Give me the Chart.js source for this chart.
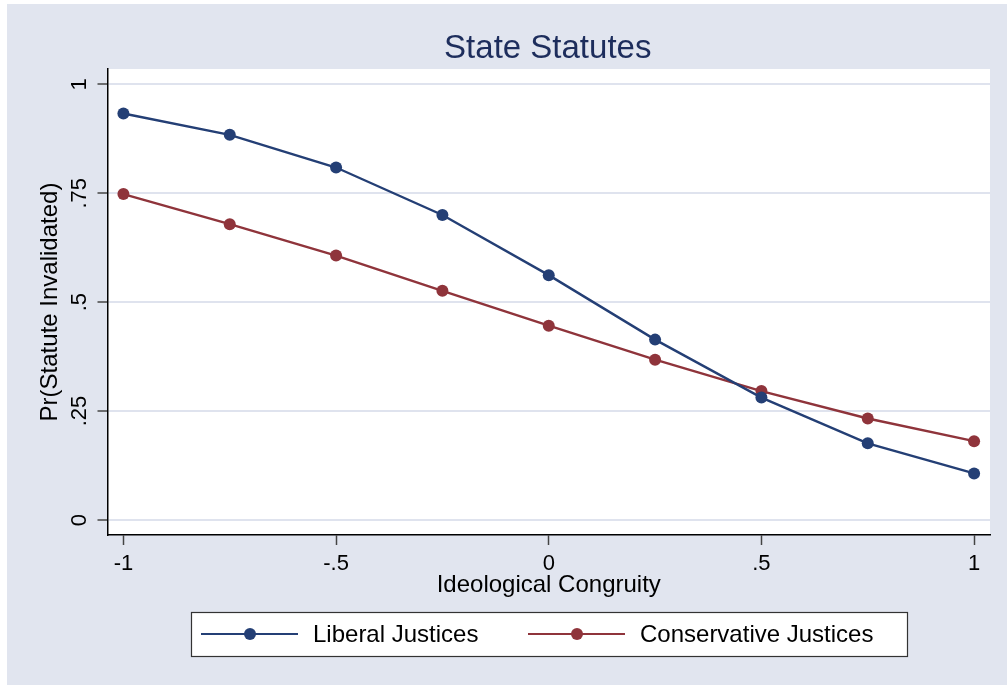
<!DOCTYPE html>
<html>
<head>
<meta charset="utf-8">
<script src="https://cdn.jsdelivr.net/npm/chart.js@4/dist/chart.umd.min.js"></script>
<style>
  html, body { margin: 0; padding: 0; background: #ffffff; overflow: hidden; }
  #wrap { width: 1007px; height: 685px; position: relative; }
  canvas { display: block; }
</style>
</head>
<body>
<div id="wrap"><canvas id="c" width="1007" height="685"></canvas></div>
<script>
// Predicted probabilities by ideological congruity
const congruity = [-1, -0.75, -0.5, -0.25, 0, 0.25, 0.5, 0.75, 1];
const liberal = [0.933, 0.884, 0.809, 0.700, 0.562, 0.414, 0.281, 0.176, 0.107];
const conservative = [0.748, 0.679, 0.607, 0.526, 0.446, 0.368, 0.296, 0.233, 0.181];

const xTickValues = [-1, -0.5, 0, 0.5, 1];
const xTickLabels = ['-1', '-.5', '0', '.5', '1'];
const yTickValues = [0, 0.25, 0.5, 0.75, 1];
const yTickLabels = ['0', '.25', '.5', '.75', '1'];

const seriesNames = ['Liberal Justices', 'Conservative Justices'];
const chartTitle = 'State Statutes';
const xTitle = 'Ideological Congruity';
const yTitle = 'Pr(Statute Invalidated)';

const FONT = "'Liberation Sans', Arial, Helvetica, sans-serif";
const BLUE = '#243f75';
const RED = '#8f343b';
const BG = '#e1e5ef';
const GRID = '#dfe3ee';

function toPoints(xs, ys) {
  return xs.map((x, i) => ({ x: x, y: ys[i] }));
}

const frame = {
  id: 'frame',
  beforeDraw(chart) {
    const { ctx, chartArea: a } = chart;
    ctx.save();
    ctx.fillStyle = '#ffffff';
    ctx.fillRect(0, 0, chart.width, chart.height);
    ctx.fillStyle = BG;
    ctx.fillRect(7, 4, chart.width - 7, chart.height - 4);
    ctx.fillStyle = '#ffffff';
    ctx.fillRect(a.left, a.top, a.right - a.left, a.bottom - a.top);
    ctx.restore();
  },
  afterDraw(chart) {
    const { ctx, chartArea: a } = chart;
    const cx = (a.left + a.right) / 2;
    ctx.save();
    // title
    ctx.fillStyle = '#1d2d5c';
    ctx.font = '33px ' + FONT;
    ctx.textAlign = 'center';
    ctx.textBaseline = 'alphabetic';
    ctx.fillText(chartTitle, cx - 1, 58);

    // legend box
    const bx = 191, by = 612, bw = 716, bh = 44;
    ctx.fillStyle = '#ffffff';
    ctx.fillRect(bx, by, bw, bh);
    ctx.strokeStyle = '#333333';
    ctx.lineWidth = 1.2;
    ctx.strokeRect(bx + 0.5, by + 0.5, bw, bh);

    const items = [
      { x0: 201, text: seriesNames[0], ds: chart.data.datasets[0] },
      { x0: 528, text: seriesNames[1], ds: chart.data.datasets[1] }
    ];
    const ly = 634;
    items.forEach(it => {
      ctx.strokeStyle = it.ds.borderColor;
      ctx.lineWidth = 2.2;
      ctx.beginPath();
      ctx.moveTo(it.x0, ly);
      ctx.lineTo(it.x0 + 97, ly);
      ctx.stroke();
      ctx.fillStyle = it.ds.pointBackgroundColor;
      ctx.beginPath();
      ctx.arc(it.x0 + 49, ly, 6, 0, Math.PI * 2);
      ctx.fill();
      ctx.fillStyle = '#000000';
      ctx.font = '24px ' + FONT;
      ctx.textAlign = 'left';
      ctx.textBaseline = 'alphabetic';
      ctx.fillText(it.text, it.x0 + 112, 642);
    });
    ctx.restore();
  }
};

new Chart(document.getElementById('c'), {
  type: 'line',
  data: {
    datasets: [
      {
        label: seriesNames[0],
        data: toPoints(congruity, liberal),
        borderColor: BLUE,
        backgroundColor: BLUE,
        pointBackgroundColor: BLUE,
        pointBorderWidth: 0,
        pointRadius: 6,
        borderWidth: 2.4,
        tension: 0,
        fill: false
      },
      {
        label: seriesNames[1],
        data: toPoints(congruity, conservative),
        borderColor: RED,
        backgroundColor: RED,
        pointBackgroundColor: RED,
        pointBorderWidth: 0,
        pointRadius: 6,
        borderWidth: 2.4,
        tension: 0,
        fill: false
      }
    ]
  },
  options: {
    responsive: false,
    animation: false,
    devicePixelRatio: 1,
    layout: { padding: { top: 69, right: 17, bottom: 85, left: 0 } },
    plugins: {
      legend: { display: false },
      title: { display: false },
      tooltip: { enabled: false }
    },
    scales: {
      x: {
        type: 'linear',
        min: -1.0374,
        max: 1.0374,
        afterBuildTicks(scale) { scale.ticks = xTickValues.map(v => ({ value: v })); },
        afterFit(scale) { scale.height = 65; },
        ticks: {
          autoSkip: false,
          maxRotation: 0,
          padding: 6,
          color: '#000000',
          font: { family: FONT, size: 22 },
          callback(value) { const i = xTickValues.indexOf(value); return i >= 0 ? xTickLabels[i] : ''; }
        },
        grid: {
          drawOnChartArea: false,
          drawTicks: true,
          tickLength: 10,
          tickColor: '#444444',
          tickWidth: 1.5
        },
        border: { display: true, color: '#000000', width: 1.5 },
        title: {
          display: true,
          text: xTitle,
          color: '#000000',
          font: { family: FONT, size: 24 },
          padding: { top: 0, bottom: 0 }
        }
      },
      y: {
        type: 'linear',
        min: -0.0344,
        max: 1.0351,
        afterBuildTicks(scale) { scale.ticks = yTickValues.map(v => ({ value: v })); },
        afterFit(scale) { scale.width = 107.5; },
        ticks: {
          autoSkip: false,
          minRotation: 90,
          maxRotation: 90,
          crossAlign: 'center',
          padding: 2.5,
          color: '#000000',
          font: { family: FONT, size: 22 },
          callback(value) { const i = yTickValues.indexOf(value); return i >= 0 ? yTickLabels[i] : ''; }
        },
        grid: {
          color: GRID,
          lineWidth: 2,
          drawTicks: true,
          tickLength: 10,
          tickColor: '#444444',
          tickWidth: 1.5
        },
        border: { display: true, color: '#000000', width: 1.5 },
        title: {
          display: true,
          text: yTitle,
          color: '#000000',
          font: { family: FONT, size: 24 },
          padding: { top: 35.5, bottom: 0 }
        }
      }
    }
  },
  plugins: [frame]
});
</script>
</body>
</html>
